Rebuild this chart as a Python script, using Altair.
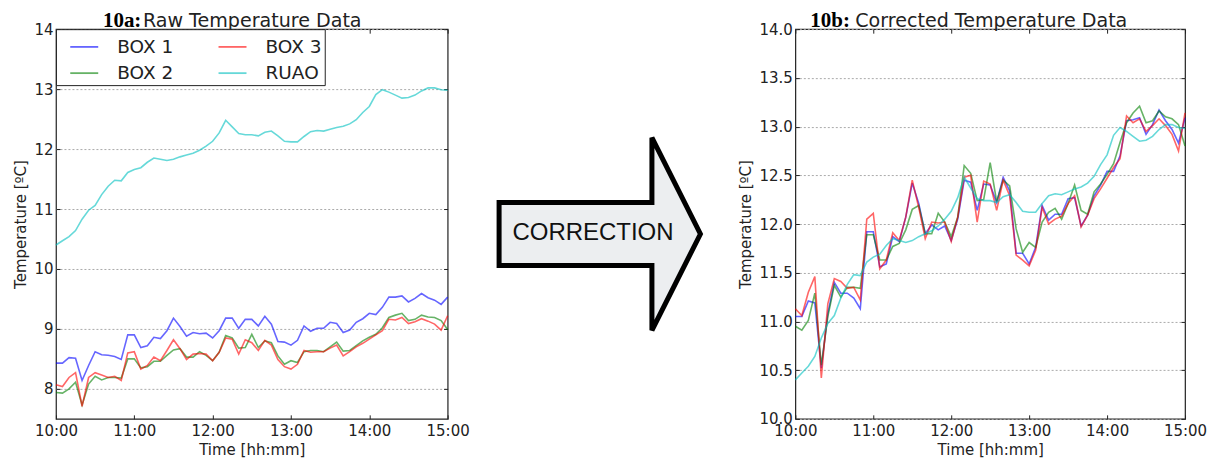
import altair as alt
import pandas as pd

# ---------------- data ----------------
times = pd.date_range("2015-01-01 10:00", "2015-01-01 15:00", freq="5min").strftime("%Y-%m-%dT%H:%M:%S").tolist()

series_names = ["BOX 1", "BOX 2", "BOX 3", "RUAO"]
legend_order = ["BOX 1", "BOX 2", "BOX 3", "RUAO"]
legend_colors = ["#0000ff", "#008000", "#ff0000", "#00bfbf"]
hour_ticks = [10, 11, 12, 13, 14, 15]
raw_ticks = [8, 9, 10, 11, 12, 13, 14]
cor_ticks = [10.0, 10.5, 11.0, 11.5, 12.0, 12.5, 13.0, 13.5, 14.0]

raw_box1 = [8.43, 8.43, 8.52, 8.51, 8.14, 8.39, 8.62, 8.57, 8.56, 8.54, 8.49, 8.90, 8.90, 8.69, 8.72, 8.86,
            8.84, 8.97, 9.18, 9.04, 8.88, 8.94, 8.92, 8.93, 8.85, 8.97, 9.18, 9.18, 9.01, 9.16, 9.16, 9.05,
            9.21, 9.08, 8.79, 8.78, 8.73, 8.81, 9.05, 8.96, 9.01, 9.01, 9.11, 9.09, 8.94, 8.98, 9.11, 9.17,
            9.26, 9.24, 9.36, 9.53, 9.53, 9.55, 9.45, 9.51, 9.59, 9.52, 9.48, 9.41, 9.53]
raw_box2 = [7.94, 7.93, 8.00, 8.11, 7.73, 8.08, 8.21, 8.15, 8.19, 8.19, 8.18, 8.50, 8.50, 8.35, 8.37, 8.46,
            8.46, 8.56, 8.65, 8.67, 8.53, 8.53, 8.62, 8.56, 8.47, 8.61, 8.89, 8.85, 8.68, 8.69, 8.91, 8.69,
            8.80, 8.77, 8.55, 8.41, 8.47, 8.44, 8.62, 8.64, 8.64, 8.62, 8.70, 8.78, 8.63, 8.64, 8.72, 8.80,
            8.86, 8.91, 9.02, 9.19, 9.23, 9.26, 9.14, 9.16, 9.23, 9.20, 9.19, 9.14, 8.99]
raw_box3 = [8.07, 8.04, 8.19, 8.27, 7.71, 8.19, 8.27, 8.23, 8.19, 8.21, 8.14, 8.60, 8.62, 8.33, 8.39, 8.53,
            8.47, 8.64, 8.82, 8.67, 8.49, 8.58, 8.59, 8.58, 8.47, 8.61, 8.85, 8.83, 8.58, 8.82, 8.77, 8.64,
            8.81, 8.73, 8.49, 8.37, 8.33, 8.41, 8.64, 8.61, 8.62, 8.62, 8.68, 8.73, 8.55, 8.62, 8.70, 8.76,
            8.83, 8.90, 8.97, 9.16, 9.15, 9.19, 9.09, 9.12, 9.17, 9.13, 9.08, 8.98, 9.22]
ruao = [10.40, 10.47, 10.54, 10.64, 10.83, 10.98, 11.06, 11.24, 11.38, 11.48, 11.47, 11.61, 11.66, 11.69,
        11.78, 11.85, 11.83, 11.81, 11.83, 11.87, 11.90, 11.93, 11.98, 12.05, 12.13, 12.27, 12.48, 12.37,
        12.26, 12.24, 12.24, 12.22, 12.28, 12.30, 12.22, 12.13, 12.12, 12.12, 12.21, 12.29, 12.31, 12.30,
        12.33, 12.36, 12.38, 12.42, 12.49, 12.61, 12.71, 12.91, 12.99, 12.95, 12.90, 12.85, 12.86, 12.90,
        12.97, 13.02, 13.02, 12.99, 12.98]

cor_box1 = [11.05, 11.05, 11.21, 11.19, 10.52, 11.08, 11.40, 11.29, 11.29, 11.24, 11.13, 11.92, 11.92, 11.56,
            11.59, 11.87, 11.82, 12.07, 12.42, 12.21, 11.90, 11.99, 11.94, 11.98, 11.83, 12.05, 12.45, 12.43,
            12.14, 12.41, 12.40, 12.22, 12.48, 12.34, 11.70, 11.70, 11.59, 11.76, 12.19, 12.04, 12.10, 12.10,
            12.26, 12.27, 11.98, 12.09, 12.29, 12.40, 12.54, 12.54, 12.70, 13.06, 13.07, 13.09, 12.92, 13.02,
            13.17, 13.06, 12.97, 12.83, 13.09]
cor_box2 = [10.95, 10.91, 11.01, 11.29, 10.55, 11.05, 11.37, 11.25, 11.35, 11.35, 11.34, 11.89, 11.89, 11.63,
            11.63, 11.77, 11.80, 11.94, 12.15, 12.19, 11.90, 11.90, 12.11, 12.02, 11.87, 12.07, 12.60, 12.52,
            12.24, 12.25, 12.63, 12.23, 12.45, 12.39, 11.95, 11.71, 11.81, 11.76, 12.02, 12.12, 12.16, 12.05,
            12.21, 12.40, 12.14, 12.10, 12.33, 12.41, 12.51, 12.62, 12.84, 13.04, 13.14, 13.21, 13.04, 13.06,
            13.16, 13.10, 13.08, 13.02, 12.80]
cor_box3 = [11.13, 11.06, 11.30, 11.46, 10.42, 11.18, 11.44, 11.41, 11.34, 11.35, 11.22, 12.05, 12.11, 11.54,
            11.63, 11.91, 11.83, 12.07, 12.45, 12.17, 11.85, 12.02, 12.01, 12.02, 11.82, 12.07, 12.48, 12.50,
            12.02, 12.44, 12.41, 12.14, 12.45, 12.29, 11.68, 11.63, 11.57, 11.73, 12.17, 12.00, 12.05, 12.08,
            12.21, 12.29, 11.97, 12.09, 12.26, 12.36, 12.47, 12.58, 12.67, 13.11, 13.04, 13.08, 12.95, 13.01,
            13.08, 13.01, 12.92, 12.75, 13.14]

arrow_label = ["CORRECTION"]

# ---------------- style ----------------
FONT = "DejaVu Sans"
TXT = "#222222"
ARROW = "M -1 -0.31 L 0.507 -0.31 L 0.507 -0.95 L 0.985 0 L 0.507 0.95 L 0.507 0.31 L -1 0.31 Z"


def dt(h):
    return alt.DateTime(year=2015, month=1, date=1, hours=h)


def panel(b1, b2, b3, rv, ydom, yticks, yfmt, title_txt, tag, tag_dx, title_dx, w, h):
    rows = []
    for name, vals in zip(series_names, [b1, b2, b3, rv]):
        for t, v in zip(times, vals):
            rows.append({"time": t, "series": name, "temp": v})
    df = pd.DataFrame(rows)

    xs = alt.Scale(domain=[dt(10), dt(15)])
    ys = alt.Scale(domain=ydom, nice=False, zero=False)
    cs = alt.Scale(domain=legend_order, range=legend_colors)
    leg = alt.Legend(title=None, orient="top-left", offset=0, columns=2, direction="vertical",
                     fillColor="white", strokeColor="#222222", padding=2.5, rowPadding=1.5,
                     columnPadding=33.4, symbolType="stroke", symbolSize=784, symbolStrokeWidth=1.8,
                     symbolOpacity=0.6, symbolOffset=10.8, labelFont=FONT, labelFontSize=18.5,
                     labelColor=TXT, labelOffset=18, labelLimit=200)
    x_bottom = alt.Axis(orient="bottom", values=[dt(v) for v in hour_ticks], format="%H:%M",
                        offset=-4, tickSize=4, tickColor="#222222", labelPadding=5, domain=False,
                        grid=False, labelFont=FONT, labelFontSize=15, labelColor=TXT,
                        labelFlush=False, labelOverlap=False, title="Time [hh:mm]",
                        titleFont=FONT, titleFontSize=15, titleFontWeight="normal",
                        titleColor=TXT, titlePadding=4)
    x_top = alt.Axis(orient="top", values=[dt(v) for v in hour_ticks], offset=-4, tickSize=4,
                     tickColor="#222222", labels=False, domain=False, grid=False, title=None)
    y_left = alt.Axis(orient="left", values=yticks, format=yfmt, offset=-4, tickSize=4,
                      tickColor="#222222", labelPadding=3, domain=False, grid=True,
                      gridColor="#aaaaaa", gridDash=[2, 2], gridWidth=1, labelFont=FONT,
                      labelFontSize=15, labelColor=TXT, labelOverlap=False,
                      title="Temperature [ºC]", titleFont=FONT, titleFontSize=15,
                      titleFontWeight="normal", titleColor=TXT, titlePadding=5)
    y_right = alt.Axis(orient="right", values=yticks, offset=-4, tickSize=4, tickColor="#222222",
                       labels=False, domain=False, grid=False, title=None)

    boxes = alt.Chart(df).transform_filter(
        alt.FieldOneOfPredicate(field="series", oneOf=series_names[:3])
    ).mark_line(strokeWidth=1.6, opacity=0.6).encode(
        x=alt.X("time:T", scale=xs, axis=x_bottom),
        y=alt.Y("temp:Q", scale=ys, axis=y_left),
        color=alt.Color("series:N", scale=cs, legend=leg),
    )
    ref = alt.Chart(df).transform_filter(
        alt.FieldEqualPredicate(field="series", equal="RUAO")
    ).mark_line(strokeWidth=1.6, opacity=0.6).encode(
        x=alt.X("time:T", scale=xs, axis=x_top),
        y=alt.Y("temp:Q", scale=ys, axis=y_right),
        color=alt.Color("series:N", scale=cs, legend=leg),
    )
    tag_mark = alt.Chart(pd.DataFrame({"tag": [tag]})).mark_text(
        font="Liberation Serif", fontWeight="bold", fontSize=21, align="left",
        baseline="alphabetic", color="#000000"
    ).encode(text="tag:N", x=alt.value(tag_dx), y=alt.value(-2.5))
    title_mark = alt.Chart(pd.DataFrame({"title": [title_txt]})).mark_text(
        font=FONT, fontSize=19.1, align="left", baseline="alphabetic", color=TXT
    ).encode(text="title:N", x=alt.value(title_dx), y=alt.value(-2.5))

    return alt.layer(boxes, ref, tag_mark, title_mark).resolve_axis(
        x="independent", y="independent"
    ).properties(
        width=w, height=h,
        view=alt.ViewBackground(stroke="#222222", strokeWidth=1.2),
    )


left = panel(raw_box1, raw_box2, raw_box3, ruao, [7.5, 14], raw_ticks, "d",
             "Raw Temperature Data", "10a:", 47, 87, 392, 390)
right = panel(cor_box1, cor_box2, cor_box3, ruao, [10, 14], cor_ticks, ".1f",
              "Corrected Temperature Data", "10b:", 15, 60, 390, 390)

mid_base = alt.Chart(pd.DataFrame({"label": arrow_label}))
arrow = mid_base.mark_point(shape=ARROW, size=41209, filled=True, fill="#eceef0", stroke="#000000",
                            strokeWidth=5, opacity=1, strokeJoin="miter").encode(
    x=alt.value(129), y=alt.value(205))
word = mid_base.mark_text(font="Liberation Sans", fontSize=24, color="#111111", align="center",
                          baseline="middle").encode(text="label:N", x=alt.value(121.5), y=alt.value(204.5))
mid = alt.layer(arrow, word).properties(width=266, height=390)

chart = alt.hconcat(left, mid, right, spacing=0).properties(
    padding={"left": 5, "top": 0, "right": 0, "bottom": 0}, background="white"
).configure_view(stroke="transparent")

chart.save("out.html", embed_options={"renderer": "svg", "actions": False})
